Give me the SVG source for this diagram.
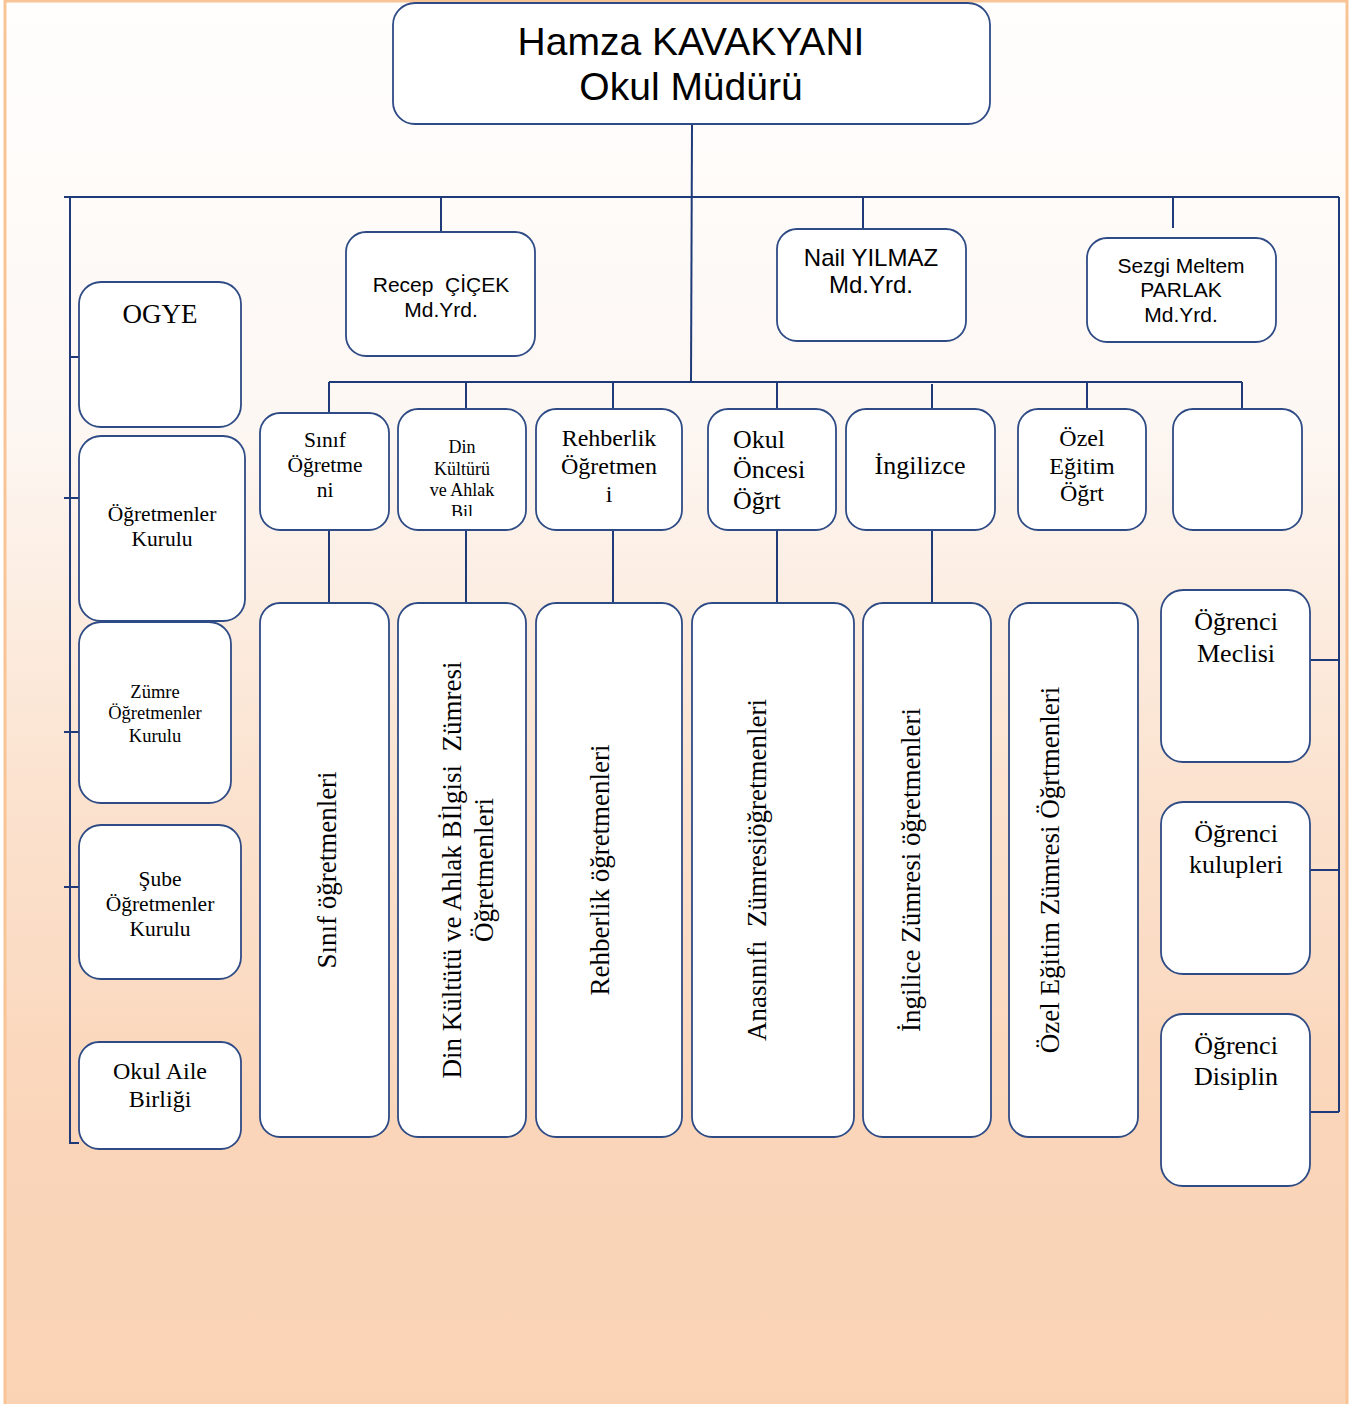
<svg xmlns="http://www.w3.org/2000/svg" width="1359" height="1404" viewBox="0 0 1359 1404">
<defs>
<linearGradient id="bg" x1="0" y1="0" x2="0" y2="1">
<stop offset="0" stop-color="#fffefd"/>
<stop offset="0.3" stop-color="#fdf7f3"/>
<stop offset="0.55" stop-color="#fbe3d0"/>
<stop offset="0.8" stop-color="#fad5b9"/>
<stop offset="1" stop-color="#fad3b5"/>
</linearGradient>
<clipPath id="dinclip"><rect x="398" y="409" width="128" height="107"/></clipPath>
</defs>
<style>
.box{fill:#ffffff;stroke:#2f4b85;stroke-width:1.8}
.ln{stroke:#1f3a78;stroke-width:2;fill:none}
.s{font-family:"Liberation Serif","Times New Roman",serif;fill:#000;text-anchor:middle;white-space:pre}
.a{font-family:"Liberation Sans",Arial,sans-serif;fill:#000;text-anchor:middle;white-space:pre}
.st{text-anchor:start}
</style>
<rect x="5" y="1" width="1342" height="1406" fill="url(#bg)" stroke="#f9c495" stroke-width="3"/>

<g id="connectors">
<path class="ln" d="M692 124 L691 382"/>
<path class="ln" d="M64 197 L1339 197"/>
<path class="ln" d="M70 197 L70 1143 L79 1143"/>
<path class="ln" d="M1339 197 L1339 1112"/>
<path class="ln" d="M441 197 L441 232 M863 197 L863 229 M1173 197 L1173 228"/>
<path class="ln" d="M70 357 L79 357 M64 498 L79 498 M64 732 L79 732 M64 887 L79 887"/>
<path class="ln" d="M1310 660 L1339 660 M1310 870 L1339 870 M1310 1112 L1339 1112"/>
<path class="ln" d="M329 382 L1242 382"/>
<path class="ln" d="M329 382 L329 413 M466 382 L466 409 M613 382 L613 409 M777 382 L777 409 M932 384 L932 409 M1087 382 L1087 409 M1242 382 L1242 409"/>
<path class="ln" d="M329 530 L329 603 M466 530 L466 603 M613 530 L613 603 M777 530 L777 603 M932 530 L932 603"/>
</g>

<g id="mudur">
<rect class="box" x="393" y="3" width="597" height="121" rx="22"/>
<text class="a" x="691" y="55" font-size="39">Hamza KAVAKYANI</text>
<text class="a" x="691" y="100" font-size="39">Okul Müdürü</text>
</g>

<g id="recep">
<rect class="box" x="346" y="232" width="189" height="124" rx="20"/>
<text class="a" x="441" y="292" font-size="21">Recep  ÇİÇEK</text>
<text class="a" x="441" y="317" font-size="21">Md.Yrd.</text>
</g>
<g id="nail">
<rect class="box" x="777" y="229" width="189" height="112" rx="20"/>
<text class="a" x="871" y="266" font-size="24">Nail YILMAZ</text>
<text class="a" x="871" y="293" font-size="24">Md.Yrd.</text>
</g>
<g id="sezgi">
<rect class="box" x="1087" y="238" width="189" height="104" rx="20"/>
<text class="a" x="1181" y="273" font-size="21">Sezgi Meltem</text>
<text class="a" x="1181" y="297" font-size="21">PARLAK</text>
<text class="a" x="1181" y="322" font-size="21">Md.Yrd.</text>
</g>

<g id="ogye">
<rect class="box" x="79" y="282" width="162" height="145" rx="22"/>
<text class="s" x="160" y="323" font-size="27">OGYE</text>
</g>
<g id="ogretmenler-kurulu">
<rect class="box" x="79" y="436" width="166" height="185" rx="22"/>
<text class="s" x="162" y="521" font-size="21.5">Öğretmenler</text>
<text class="s" x="162" y="546" font-size="21.5">Kurulu</text>
</g>
<g id="zumre-kurulu">
<rect class="box" x="79" y="622" width="152" height="181" rx="22"/>
<text class="s" x="155" y="698" font-size="18.5">Zümre</text>
<text class="s" x="155" y="719" font-size="18.5">Öğretmenler</text>
<text class="s" x="155" y="742" font-size="18.5">Kurulu</text>
</g>
<g id="sube-kurulu">
<rect class="box" x="79" y="825" width="162" height="154" rx="22"/>
<text class="s" x="160" y="886" font-size="21.5">Şube</text>
<text class="s" x="160" y="911" font-size="21.5">Öğretmenler</text>
<text class="s" x="160" y="936" font-size="21.5">Kurulu</text>
</g>
<g id="okul-aile">
<rect class="box" x="79" y="1042" width="162" height="107" rx="20"/>
<text class="s" x="160" y="1079" font-size="24">Okul Aile</text>
<text class="s" x="160" y="1107" font-size="24">Birliği</text>
</g>

<g id="sinif">
<rect class="box" x="260" y="413" width="129" height="117" rx="20"/>
<text class="s" x="325" y="447" font-size="21.5">Sınıf</text>
<text class="s" x="325" y="472" font-size="21.5">Öğretme</text>
<text class="s" x="325" y="497" font-size="21.5">ni</text>
</g>
<g id="din">
<rect class="box" x="398" y="409" width="128" height="121" rx="20"/>
<text class="s" x="462" y="453" font-size="18">Din</text>
<text class="s" x="462" y="475" font-size="18">Kültürü</text>
<text class="s" x="462" y="496" font-size="18">ve Ahlak</text>
<text class="s" x="462" y="518" font-size="18" clip-path="url(#dinclip)">Bil</text>
</g>
<g id="rehberlik">
<rect class="box" x="536" y="409" width="146" height="121" rx="20"/>
<text class="s" x="609" y="446" font-size="24">Rehberlik</text>
<text class="s" x="609" y="474" font-size="24">Öğretmen</text>
<text class="s" x="609" y="502" font-size="24">i</text>
</g>
<g id="okuloncesi">
<rect class="box" x="708" y="409" width="128" height="121" rx="20"/>
<text class="s st" x="733" y="448" font-size="26">Okul</text>
<text class="s st" x="733" y="478" font-size="26">Öncesi</text>
<text class="s st" x="733" y="509" font-size="26">Öğrt</text>
</g>
<g id="ingilizce">
<rect class="box" x="846" y="409" width="149" height="121" rx="20"/>
<text class="s" x="920" y="474" font-size="26">İngilizce</text>
</g>
<g id="ozel">
<rect class="box" x="1018" y="409" width="128" height="121" rx="20"/>
<text class="s" x="1082" y="446" font-size="24">Özel</text>
<text class="s" x="1082" y="474" font-size="24">Eğitim</text>
<text class="s" x="1082" y="501" font-size="24">Öğrt</text>
</g>
<g id="bos">
<rect class="box" x="1173" y="409" width="129" height="121" rx="20"/>
</g>

<g id="sinif-ogretmenleri">
<rect class="box" x="260" y="603" width="129" height="534" rx="20"/>
<text class="s" font-size="27" transform="translate(336 870) rotate(-90)">Sınıf öğretmenleri</text>
</g>
<g id="din-zumresi">
<rect class="box" x="398" y="603" width="128" height="534" rx="20"/>
<text class="s" font-size="27" transform="translate(461 870) rotate(-90)">Din Kültütü ve Ahlak Bİlgisi  Zümresi</text>
<text class="s" font-size="27" transform="translate(493 870) rotate(-90)">Öğretmenleri</text>
</g>
<g id="rehberlik-ogretmenleri">
<rect class="box" x="536" y="603" width="146" height="534" rx="20"/>
<text class="s" font-size="27" transform="translate(609 870) rotate(-90)">Rehberlik öğretmenleri</text>
</g>
<g id="anasinifi">
<rect class="box" x="692" y="603" width="162" height="534" rx="20"/>
<text class="s" font-size="27" transform="translate(766 870) rotate(-90)">Anasınıfı  Zümresiöğretmenleri</text>
</g>
<g id="ingilizce-zumresi">
<rect class="box" x="863" y="603" width="128" height="534" rx="20"/>
<text class="s" font-size="27" transform="translate(920 870) rotate(-90)">İngilice Zümresi öğretmenleri</text>
</g>
<g id="ozel-zumresi">
<rect class="box" x="1009" y="603" width="129" height="534" rx="20"/>
<text class="s" font-size="27" transform="translate(1059 870) rotate(-90)">Özel Eğitim Zümresi Öğrtmenleri</text>
</g>

<g id="meclis">
<rect class="box" x="1161" y="590" width="149" height="172" rx="22"/>
<text class="s" x="1236" y="630" font-size="26">Öğrenci</text>
<text class="s" x="1236" y="662" font-size="26">Meclisi</text>
</g>
<g id="kulup">
<rect class="box" x="1161" y="802" width="149" height="172" rx="22"/>
<text class="s" x="1236" y="842" font-size="26">Öğrenci</text>
<text class="s" x="1236" y="873" font-size="26">kulupleri</text>
</g>
<g id="disiplin">
<rect class="box" x="1161" y="1014" width="149" height="172" rx="22"/>
<text class="s" x="1236" y="1054" font-size="26">Öğrenci</text>
<text class="s" x="1236" y="1085" font-size="26">Disiplin</text>
</g>
</svg>
